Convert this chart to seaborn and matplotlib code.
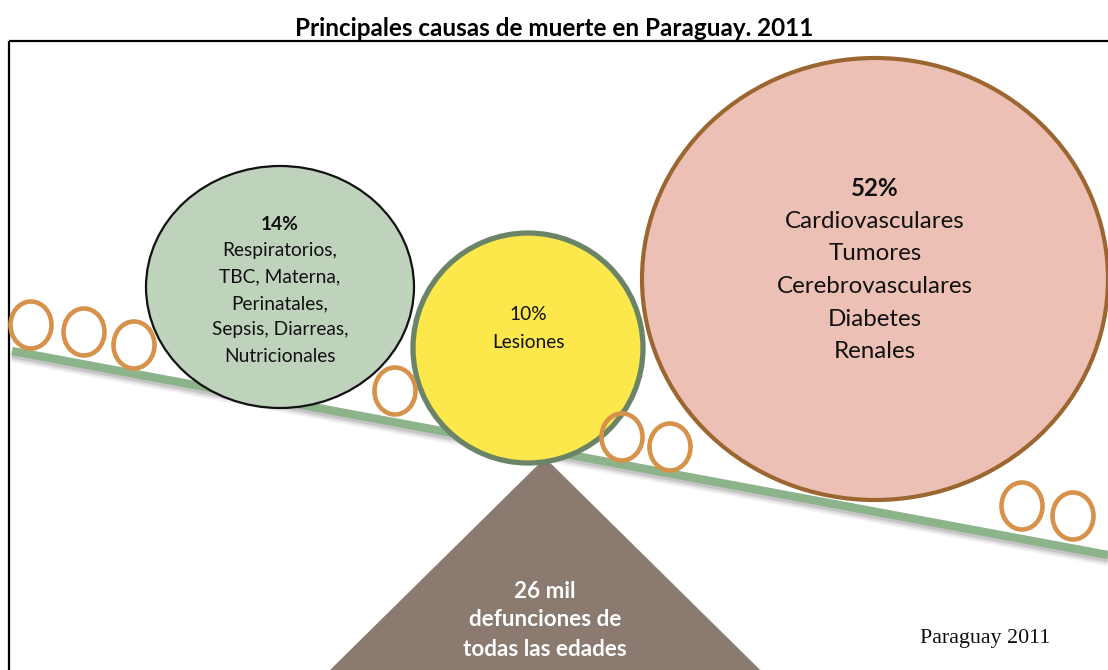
import numpy as np
import pandas as pd
import matplotlib
matplotlib.use("Agg")
import matplotlib.pyplot as plt
import seaborn as sns
from matplotlib.patches import Ellipse, Polygon, Rectangle

# --- contenido del gráfico ---
titulo = "Principales causas de muerte en Paraguay. 2011"
porcentajes = [14, 10, 52]
grupos = [
    ["Respiratorios,", "TBC, Materna,", "Perinatales,", "Sepsis, Diarreas,", "Nutricionales"],
    ["Lesiones"],
    ["Cardiovasculares", "Tumores", "Cerebrovasculares", "Diabetes", "Renales"],
]
total_texto = ["26 mil", "defunciones de", "todas las edades"]
fuente = "Paraguay 2011"

# --- layout (pixeles) ---
W, H = 1108, 670
circ_centros = [(280, 287), (528, 348), (875, 279)]
circ_radios = [(134, 121), (115, 115), (233, 221)]
circ_colores = ["#bfd3bc", "#fde84c", "#edc0b5"]
circ_bordes = ["#111111", "#6b8468", "#9c6630"]
circ_lw = [1.6, 3.8, 3.0]
texto_top = [224, 314, 189]
texto_paso = [26.5, 28, 32.5]
texto_size = [13.8, 13.8, 17.4]
pct_bold = [True, False, True]

aros = [(31, 325), (84, 332), (134, 345), (395, 391),
        (622, 437), (670, 447), (1022, 506), (1073, 516)]
viga_x = [12, 1108]
viga_y = [351, 555]

sns.set_theme(style="white")
plt.rcParams["font.family"] = ["Lato", "DejaVu Sans"]

fig = plt.figure(figsize=(W / 100, H / 100), dpi=100)
ax = fig.add_axes([0, 0, 1, 1])
ax.set_xlim(0, W)
ax.set_ylim(H, 0)
ax.axis("off")

# marco
ax.add_patch(Rectangle((9, 41), W + 20, H, fill=False, ec="black", lw=1.6, zorder=1))
fig.text(0.5, 1 - 28 / H, titulo, ha="center", va="center",
         fontsize=17.5, fontweight="bold", color="black")

# triangulo (fulcro) con sombra
tri = [(545, 458), (328, 672), (762, 672)]
ax.add_patch(Polygon([(x + 6, y + 5) for x, y in tri], closed=True,
                     fc="#999999", ec="none", alpha=0.35, zorder=2))
ax.add_patch(Polygon(tri, closed=True, fc="#8a7a6f", ec="none", zorder=3))
for i, t in enumerate(total_texto):
    ax.text(545, 591 + i * 29, t, ha="center", va="center", color="white",
            fontsize=16.2, fontweight="bold", zorder=4)

# viga con sombra
viga = pd.DataFrame({"x": viga_x, "y": viga_y})
for k, a in zip([7, 5, 3], [0.08, 0.12, 0.18]):
    ax.plot(viga["x"], viga["y"] + k, color="#555555", lw=6, alpha=a,
            solid_capstyle="butt", zorder=4)
sns.lineplot(data=viga, x="x", y="y", ax=ax, color="#8cb38a", lw=6,
             zorder=5, legend=False)
ax.lines[-1].set_solid_capstyle("butt")
ax.set_xlim(0, W)
ax.set_ylim(H, 0)
ax.axis("off")

# aros (por encima de los circulos)
for cx, cy in aros:
    ax.add_patch(Ellipse((cx, cy), 41, 47, fill=False, ec="#d6924a", lw=3.3, zorder=9))

# circulos grandes
for i in range(3):
    (cx, cy), (rx, ry) = circ_centros[i], circ_radios[i]
    ax.add_patch(Ellipse((cx, cy), 2 * rx, 2 * ry, fc=circ_colores[i],
                         ec=circ_bordes[i], lw=circ_lw[i], zorder=7))
    lineas = [f"{porcentajes[i]}%"] + grupos[i]
    for j, t in enumerate(lineas):
        ax.text(cx, texto_top[i] + j * texto_paso[i], t, ha="center", va="center",
                fontsize=texto_size[i], color="#111111",
                fontweight="bold" if (j == 0 and pct_bold[i]) else "normal", zorder=8)

ax.text(985, 638, fuente, ha="center", va="center", fontsize=15.8,
        family="Liberation Serif", color="#111111", zorder=8)

fig.savefig("out.png", dpi=100)
